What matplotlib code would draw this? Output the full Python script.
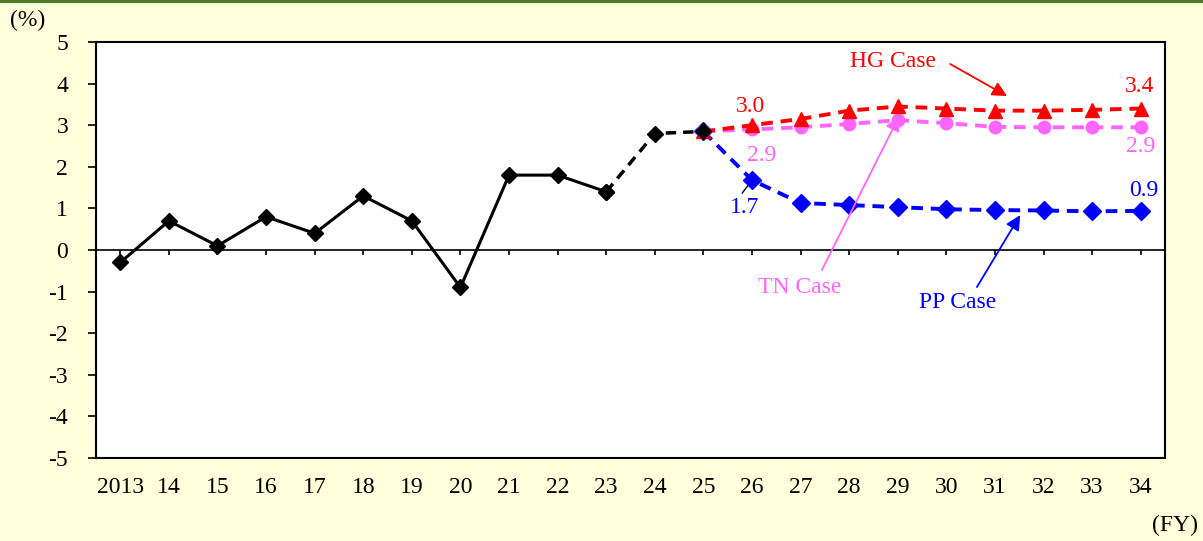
import numpy as np
import matplotlib.pyplot as plt

plt.rcParams['font.family'] = ['Liberation Serif', 'DejaVu Serif']
plt.rcParams['axes.unicode_minus'] = False

years = ['2013', '14', '15', '16', '17', '18', '19', '20', '21', '22', '23',
         '24', '25', '26', '27', '28', '29', '30', '31', '32', '33', '34']
actual = [-0.3, 0.7, 0.1, 0.8, 0.4, 1.3, 0.7, -0.9, 1.8, 1.8, 1.4]
estimate = [1.4, 2.8, 2.85]  # FY23 -> FY25
hg = [2.85, 3.0, 3.15, 3.35, 3.45, 3.4, 3.35, 3.35, 3.37, 3.4]
tn = [2.85, 2.9, 2.95, 3.03, 3.12, 3.05, 2.96, 2.95, 2.95, 2.95]
pp = [2.85, 1.68, 1.13, 1.08, 1.03, 0.98, 0.96, 0.95, 0.93, 0.94]

bg = '#ffffdc'
red, pink, blue = '#ff0000', '#ff66ff', '#0000ff'
fig = plt.figure(figsize=(12.03, 5.41), dpi=100, facecolor=bg)
ax = fig.add_axes([96/1203, 1 - 458/541, 1069/1203, 416/541])
ax.set_facecolor('white')

x = np.arange(len(years))
dash = (0, (3, 2))
ax.plot(x[:11], actual, color='black', lw=2.2, marker='D', ms=8, zorder=3)
ax.plot(x[10:13], estimate, color='black', lw=2.5, ls=dash, marker='D', ms=8, zorder=3)
ax.plot(x[12:], pp, color=blue, lw=2.8, ls=dash, marker='D', ms=9, zorder=4)
ax.plot(x[12:], tn, color=pink, lw=2.8, ls=dash, marker='o', ms=9, zorder=4)
ax.plot(x[12:], hg, color=red, lw=2.8, ls=dash, marker='^', ms=10, zorder=5)
ax.plot(x[12], estimate[-1], color='black', marker='D', ms=8, zorder=6)

ax.set_xlim(-0.5, len(years) - 0.5)
ax.set_ylim(-5, 5)
ax.set_yticks(range(-5, 6))
ax.set_xticks(x)
ax.set_xticklabels(years)
ax.tick_params(axis='y', direction='out', length=6, width=1.2, labelsize=17, pad=14)
ax.tick_params(axis='x', length=0, labelsize=17, pad=14)
for s in ax.spines.values():
    s.set_linewidth(1.5)

ax.axhline(0, color='black', lw=1.2, zorder=2)
ax.vlines(x, -0.13, 0, color='black', lw=1.2, zorder=2)

ts = 17
def label(xv, yv, s, c):
    ax.text(xv, yv, s, color=c, fontsize=ts, ha='center', va='center')

label(12.96, 3.44, '3.0', red)
label(20.97, 3.92, '3.4', red)
label(13.2, 2.28, '2.9', pink)
label(21.0, 2.48, '2.9', pink)
label(12.84, 1.01, '1.7', blue)
label(21.07, 1.44, '0.9', blue)
label(15.9, 4.52, 'HG Case', red)
label(13.99, -0.91, 'TN Case', pink)
label(17.24, -1.25, 'PP Case', blue)
ax.plot([12.8, 13.0], [1.37, 1.68], color='black', lw=1)

def arrow(x0, y0, x1, y1, c):
    ax.annotate('', xy=(x1, y1), xytext=(x0, y0),
                arrowprops=dict(arrowstyle='-|>', color=c, lw=1.3, mutation_scale=22,
                                shrinkA=0, shrinkB=0), zorder=6)

arrow(17.08, 4.47, 18.25, 3.70, red)
arrow(14.44, -0.48, 16.03, 3.22, pink)
arrow(17.63, -0.89, 18.52, 0.84, blue)

fig.text(28/1203, 1 - 20/541, '(%)', fontsize=ts, ha='center', va='center')
fig.text(1175/1203, 1 - 525/541, '(FY)', fontsize=ts, ha='center', va='center')
fig.add_artist(plt.Line2D([0, 1], [1 - 1/541, 1 - 1/541], color='#4f7a28', lw=3,
                          transform=fig.transFigure))

fig.savefig('out.png', dpi=100, facecolor=bg)
